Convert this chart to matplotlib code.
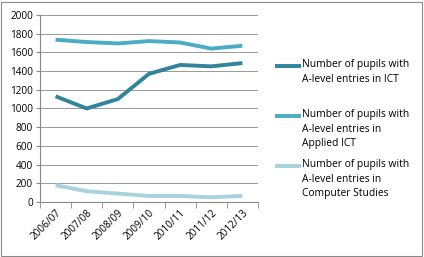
import numpy as np
import matplotlib
matplotlib.use("Agg")
from matplotlib import pyplot as plt
from matplotlib.patches import Rectangle
from matplotlib.lines import Line2D

years = ["2006/07", "2007/08", "2008/09", "2009/10", "2010/11", "2011/12", "2012/13"]
ict = [1130, 1000, 1100, 1370, 1465, 1450, 1485]
applied_ict = [1735, 1710, 1695, 1720, 1705, 1640, 1670]
comp_studies = [180, 115, 90, 65, 65, 50, 65]
labels = ["Number of pupils with\nA-level entries in ICT",
          "Number of pupils with\nA-level entries in\nApplied ICT",
          "Number of pupils with\nA-level entries in\nComputer Studies"]
colors = ["#31849b", "#4bacc6", "#a8d2de"]

plt.rcParams['font.family'] = ['Open Sans', 'DejaVu Sans']

W, H = 424, 257
fig = plt.figure(figsize=(W / 100, H / 100), dpi=100)
ax = fig.add_axes([0.0943, 0.214, 0.514, 0.728])

x = np.arange(len(years))
for vals, c in zip([ict, applied_ict, comp_studies], colors):
    ax.plot(x, vals, color=c, lw=2.8, solid_capstyle='butt')

ax.set_xlim(-0.5, len(years) - 0.5)
ax.set_ylim(0, 2000)
ax.set_yticks(range(0, 2001, 200))
ax.set_xticks(x)
ax.set_xticklabels(years, rotation=45, ha='right', rotation_mode='anchor', fontsize=7.2)
ax.set_xticks(np.arange(-0.5, len(years)), minor=True)
ax.tick_params(axis='x', which='major', length=0, pad=4)
ax.tick_params(axis='x', which='minor', length=4, color='#888888')
ax.tick_params(axis='y', length=3, color='#888888', labelsize=7.2, pad=2)
ax.grid(axis='y', color='#999999', lw=0.7)
ax.set_axisbelow(True)
for s in ['top', 'right']:
    ax.spines[s].set_visible(False)
for s in ['left', 'bottom']:
    ax.spines[s].set_color('#888888')
    ax.spines[s].set_linewidth(0.8)

# legend drawn by hand so the key sits at the first text line
for i, (lab, c) in enumerate(zip(labels, colors)):
    ypx = 66 + i * 50
    yf = 1 - ypx / H
    fig.add_artist(Line2D([275 / W, 301 / W], [yf, yf], color=c, lw=2.8,
                          solid_capstyle='butt'))
    fig.text(302 / W, 1 - (ypx - 7) / H, lab, fontsize=7.4, va='top', ha='left',
             linespacing=1.45)

fig.patches.append(Rectangle((0.002, 0.004), 0.994, 0.99, transform=fig.transFigure,
                             fill=False, edgecolor='#888888', lw=0.8))

fig.savefig("out.png", dpi=100)
